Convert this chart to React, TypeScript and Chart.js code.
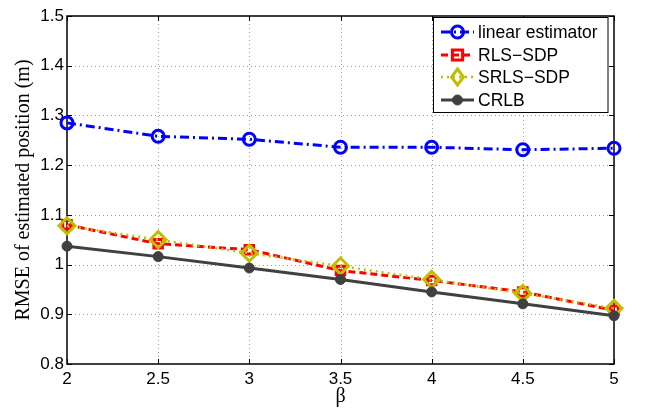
import React, { useEffect, useRef } from 'react';
import { Chart, registerables } from 'chart.js';

Chart.register(...registerables);

const betaValues = [2, 2.5, 3, 3.5, 4, 4.5, 5];
const linearEstimator = [1.285, 1.258, 1.252, 1.236, 1.236, 1.231, 1.234];
const rlsSdp = [1.08, 1.042, 1.03, 0.988, 0.968, 0.945, 0.908];
const srlsSdp = [1.078, 1.05, 1.023, 0.997, 0.97, 0.942, 0.912];
const crlb = [1.037, 1.016, 0.993, 0.97, 0.945, 0.921, 0.897];
const seriesNames = ['linear estimator', 'RLS\u2212SDP', 'SRLS\u2212SDP', 'CRLB'];
const xTicks = [2, 2.5, 3, 3.5, 4, 4.5, 5];
const yTicks = [0.8, 0.9, 1, 1.1, 1.2, 1.3, 1.4, 1.5];
const xTitle = '\u03b2';
const yTitle = 'RMSE of estimated position (m)';

const styles = [
  { color: '#0000ff', dash: [9, 4, 2, 4], width: 3, point: 'circle', radius: 6, fill: 'rgba(0,0,0,0)', pbw: 3 },
  { color: '#ff0000', dash: [7, 4], width: 3, point: 'rect', radius: 6, fill: 'rgba(0,0,0,0)', pbw: 3 },
  { color: '#bfbf00', dash: [2, 4], width: 2.5, point: 'rectRot', radius: 8, fill: 'rgba(0,0,0,0)', pbw: 3 },
  { color: '#404040', dash: [], width: 3, point: 'circle', radius: 5, fill: '#404040', pbw: 1 },
];

const SANS = '"Liberation Sans", Arial, sans-serif';
const SERIF = '"Liberation Serif", "Times New Roman", serif';

function drawMarker(ctx: CanvasRenderingContext2D, s: any, x: number, y: number) {
  ctx.save();
  ctx.setLineDash([]);
  ctx.strokeStyle = s.color;
  ctx.fillStyle = s.fill;
  ctx.lineWidth = s.pbw;
  ctx.beginPath();
  if (s.point === 'circle') {
    ctx.arc(x, y, s.radius, 0, Math.PI * 2);
  } else if (s.point === 'rect') {
    const h = s.radius / Math.SQRT2 * 1.2;
    ctx.rect(x - h, y - h, 2 * h, 2 * h);
  } else {
    const r = s.radius;
    ctx.moveTo(x, y - r);
    ctx.lineTo(x + r * 0.75, y);
    ctx.lineTo(x, y + r);
    ctx.lineTo(x - r * 0.75, y);
    ctx.closePath();
  }
  ctx.fill();
  ctx.stroke();
  ctx.restore();
}

const framePlugin = {
  id: 'matlabFrame',
  beforeDatasetsDraw(chart: any) {
    const { ctx, chartArea, scales } = chart;
    const { left, right, top, bottom } = chartArea;
    const x = scales.x;
    const y = scales.y;
    ctx.save();
    ctx.strokeStyle = '#9a9a9a';
    ctx.lineWidth = 1;
    ctx.setLineDash([1, 3]);
    xTicks.forEach((v) => {
      const px = Math.round(x.getPixelForValue(v)) + 0.5;
      if (px > left + 2 && px < right - 2) {
        ctx.beginPath();
        ctx.moveTo(px, top);
        ctx.lineTo(px, bottom);
        ctx.stroke();
      }
    });
    yTicks.forEach((v) => {
      const py = Math.round(y.getPixelForValue(v)) + 0.5;
      if (py > top + 2 && py < bottom - 2) {
        ctx.beginPath();
        ctx.moveTo(left, py);
        ctx.lineTo(right, py);
        ctx.stroke();
      }
    });
    ctx.setLineDash([]);
    ctx.strokeStyle = '#000';
    ctx.lineWidth = 1.5;
    ctx.strokeRect(left, top, right - left, bottom - top);
    ctx.lineWidth = 1;
    const tl = 5;
    xTicks.forEach((v) => {
      const px = Math.round(x.getPixelForValue(v)) + 0.5;
      ctx.beginPath();
      ctx.moveTo(px, bottom);
      ctx.lineTo(px, bottom - tl);
      ctx.moveTo(px, top);
      ctx.lineTo(px, top + tl);
      ctx.stroke();
    });
    yTicks.forEach((v) => {
      const py = Math.round(y.getPixelForValue(v)) + 0.5;
      ctx.beginPath();
      ctx.moveTo(left, py);
      ctx.lineTo(left + tl, py);
      ctx.moveTo(right, py);
      ctx.lineTo(right - tl, py);
      ctx.stroke();
    });
    ctx.restore();
  },
  afterDraw(chart: any) {
    const { ctx, chartArea } = chart;
    const bx = 433.5;
    const by = 17.5;
    const bw = chartArea.right - 6 - bx;
    const bh = 95;
    ctx.save();
    ctx.fillStyle = '#fff';
    ctx.fillRect(bx, by, bw, bh);
    ctx.strokeStyle = '#000';
    ctx.lineWidth = 1;
    ctx.strokeRect(bx, by, bw, bh);
    ctx.font = `17.5px ${SANS}`;
    ctx.textBaseline = 'middle';
    ctx.textAlign = 'left';
    const rows = [32, 55, 77, 100];
    styles.forEach((s, i) => {
      const yy = rows[i];
      ctx.save();
      ctx.strokeStyle = s.color;
      ctx.lineWidth = s.width;
      ctx.setLineDash(s.dash);
      ctx.beginPath();
      ctx.moveTo(441, yy);
      ctx.lineTo(474, yy);
      ctx.stroke();
      ctx.restore();
      drawMarker(ctx, s, 457.5, yy);
      ctx.fillStyle = '#000';
      ctx.fillText(seriesNames[i], 478, yy + 1);
    });
    ctx.restore();
  },
};

export default function App() {
  const ref = useRef<HTMLCanvasElement | null>(null);
  useEffect(() => {
    document.body.style.margin = '0';
    if (!ref.current) return;
    const allSeries = [linearEstimator, rlsSdp, srlsSdp, crlb];
    const chart = new Chart(ref.current, {
      type: 'line',
      data: {
        datasets: allSeries.map((vals, i) => ({
          label: seriesNames[i],
          data: betaValues.map((b, j) => ({ x: b, y: vals[j] })),
          borderColor: styles[i].color,
          borderWidth: styles[i].width,
          borderDash: styles[i].dash,
          pointStyle: styles[i].point as any,
          pointRadius: styles[i].radius,
          pointBorderWidth: styles[i].pbw,
          pointBorderColor: styles[i].color,
          pointBackgroundColor: styles[i].fill,
          fill: false,
          tension: 0,
          clip: false as any,
          order: 4 - i,
        })),
      },
      options: {
        responsive: false,
        animation: false,
        devicePixelRatio: 1,
        layout: { padding: { left: 0, right: 33, top: 16, bottom: 0 } },
        plugins: { legend: { display: false }, tooltip: { enabled: false } },
        scales: {
          x: {
            type: 'linear',
            min: 2,
            max: 5,
            afterBuildTicks: (axis: any) => {
              axis.ticks = xTicks.map((v) => ({ value: v }));
            },
            afterFit: (axis: any) => {
              axis.height = 46;
            },
            grid: { display: false, drawTicks: false },
            border: { display: false },
            ticks: {
              color: '#000',
              font: { family: SANS, size: 17 },
              padding: 5,
              maxRotation: 0,
              autoSkip: false,
              callback: (v: any) => String(Number(Number(v).toFixed(1))),
            },
            title: {
              display: true,
              text: xTitle,
              color: '#000',
              font: { family: SERIF, size: 20 },
              padding: { top: 0, bottom: 1 },
            },
          },
          y: {
            type: 'linear',
            min: 0.8,
            max: 1.5,
            afterBuildTicks: (axis: any) => {
              axis.ticks = yTicks.map((v) => ({ value: v }));
            },
            afterFit: (axis: any) => {
              axis.width = 67;
            },
            grid: { display: false, drawTicks: false },
            border: { display: false },
            ticks: {
              color: '#000',
              font: { family: SANS, size: 17 },
              padding: 3,
              autoSkip: false,
              callback: (v: any) => String(Number(Number(v).toFixed(1))),
            },
            title: {
              display: true,
              text: yTitle,
              color: '#000',
              font: { family: SERIF, size: 20 },
              padding: { top: 12, bottom: 0 },
            },
          },
        },
      },
      plugins: [framePlugin],
    });
    return () => chart.destroy();
  }, []);
  return (
    <div style={{ position: 'absolute', left: 0, top: 0, width: 647, height: 410 }}>
      <canvas ref={ref} width={647} height={410} />
    </div>
  );
}
